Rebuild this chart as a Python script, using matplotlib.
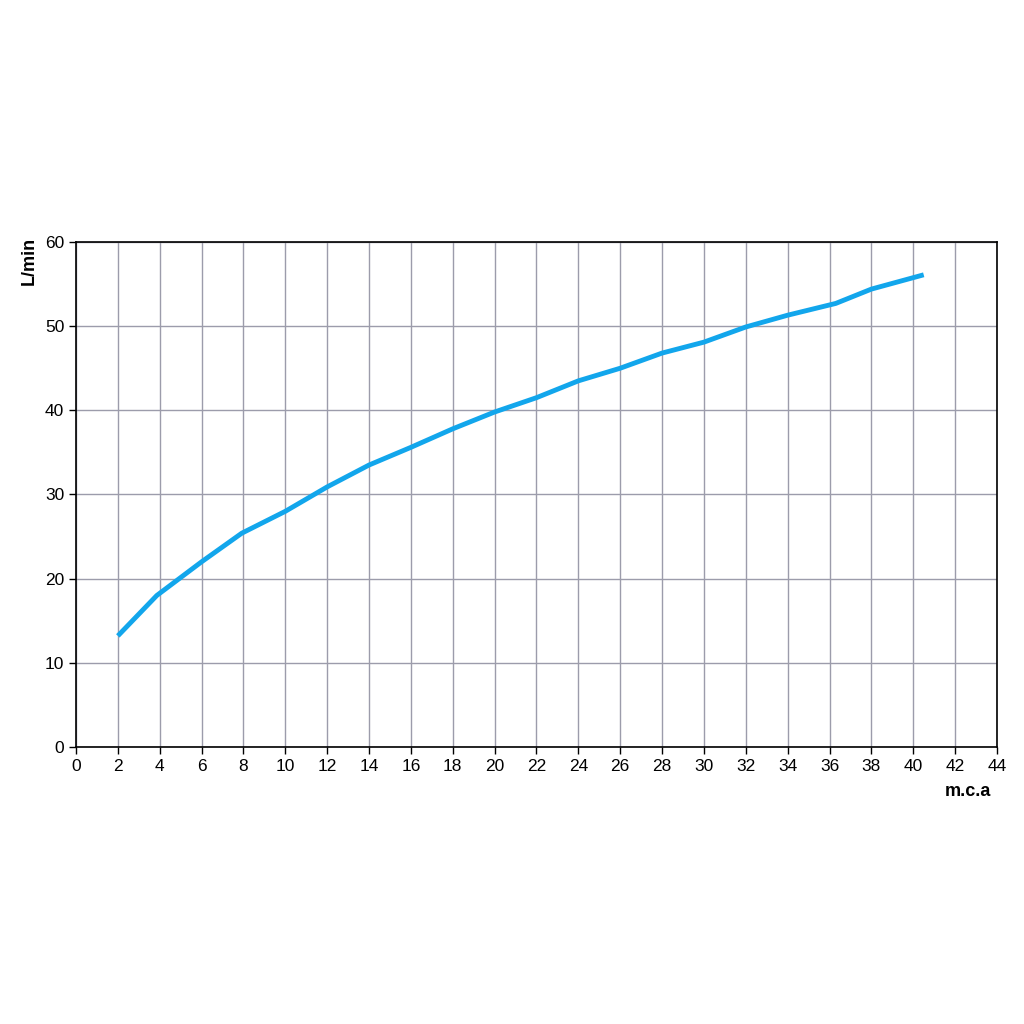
import matplotlib
matplotlib.use("Agg")
import matplotlib.pyplot as plt

# datos de la curva (m.c.a vs L/min)
presion = [2, 3.86, 6, 7.92, 10, 12, 14, 16, 18, 20, 22, 24, 26, 28, 30, 32, 34, 36.3, 38, 40.5]
caudal = [13.2, 18.0, 22.0, 25.4, 28.0, 30.9, 33.5, 35.6, 37.8, 39.8, 41.5, 43.5, 45.0, 46.8, 48.1, 49.9, 51.3, 52.7, 54.4, 56.1]

x_ticks = list(range(0, 45, 2))
y_ticks = list(range(0, 61, 10))

plt.rcParams['font.family'] = ['Liberation Sans', 'DejaVu Sans']

fig = plt.figure(figsize=(10.24, 10.24), dpi=100)
ax = fig.add_axes([0.0742, 0.2705, 0.8994, 0.4932])

ax.plot(presion, caudal, color="#12a6ec", linewidth=3.5, solid_capstyle="butt", zorder=3)

ax.set_xlim(0, 44)
ax.set_ylim(0, 60)
ax.set_xticks(x_ticks)
ax.set_yticks(y_ticks)
ax.grid(True, color="#9c9cab", linewidth=1.0, zorder=0)
ax.tick_params(labelsize=12.5, length=5, width=1, direction="out", colors="black")
for s in ax.spines.values():
    s.set_linewidth(1.2)
    s.set_color("black")

fig.text(0.029, 0.745, "L/min", rotation=90, fontsize=13, fontweight="bold", ha="center", va="center")
fig.text(0.945, 0.227, "m.c.a", fontsize=13, fontweight="bold", ha="center", va="center")

fig.savefig("out.png", dpi=100, facecolor="white")
